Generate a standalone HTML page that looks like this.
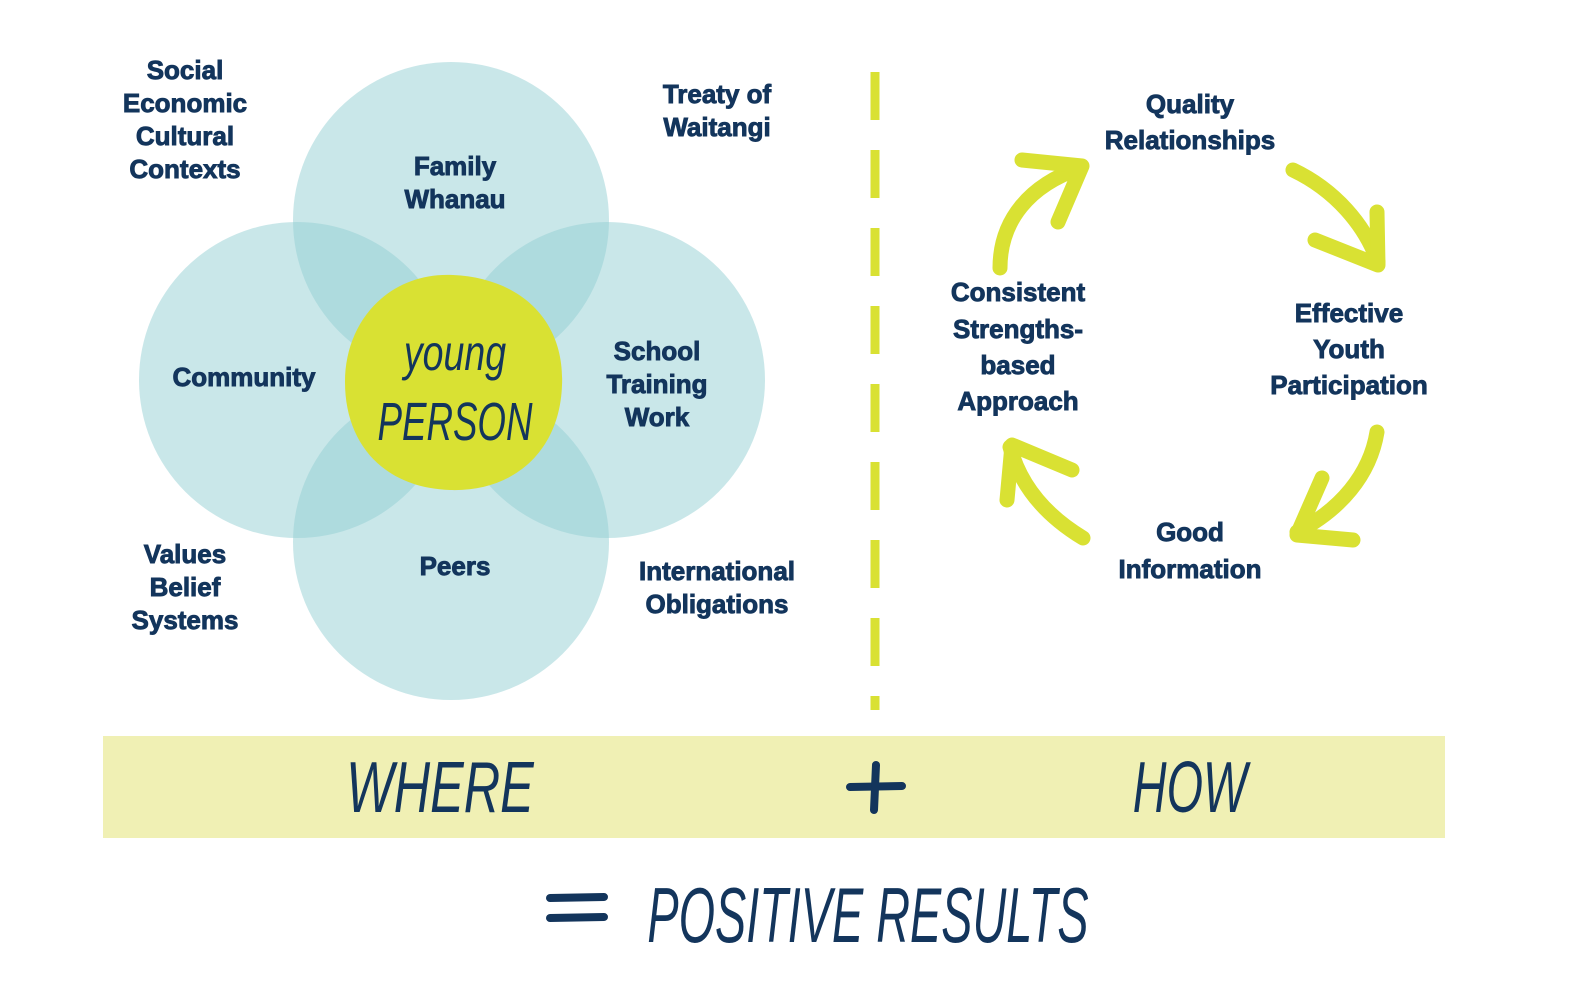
<!DOCTYPE html>
<html><head><meta charset="utf-8"><style>
html,body{margin:0;padding:0;background:#fff;}
svg{display:block}
.l{font-family:"Liberation Sans",sans-serif;font-weight:bold;fill:#13355c;stroke:#13355c;stroke-width:0.9;font-size:26px;text-anchor:middle}
.h{font-family:"Liberation Sans Narrow","Liberation Sans",sans-serif;fill:#13355c;font-style:italic;text-anchor:middle}
</style></head><body>
<svg width="1582" height="993" viewBox="0 0 1582 993" xmlns="http://www.w3.org/2000/svg">
<g fill="#93cfd3" fill-opacity="0.5">
<circle cx="451" cy="220" r="158"/>
<circle cx="297" cy="380" r="158"/>
<circle cx="607" cy="380" r="158"/>
<circle cx="451" cy="542" r="158"/>
</g>
<path d="M453 275 C520 278 565 320 562 385 C560 450 515 492 450 490 C385 488 345 445 345 382 C345 320 390 272 453 275 Z" fill="#d9e133"/>
<text class="h" x="455" y="370" font-size="50" transform="translate(455 370) scale(0.75 1) translate(-455 -370)">young</text>
<text class="h" x="455" y="440" font-size="54" transform="translate(455 440) scale(0.68 1) translate(-455 -440)">PERSON</text>
<g class="l">
<text x="185" y="79">Social</text><text x="185" y="112">Economic</text><text x="185" y="145">Cultural</text><text x="185" y="178">Contexts</text>
<text x="717" y="103">Treaty of</text><text x="717" y="136">Waitangi</text>
<text x="455" y="175">Family</text><text x="455" y="208">Whanau</text>
<text x="244" y="386">Community</text>
<text x="657" y="360">School</text><text x="657" y="393">Training</text><text x="657" y="426">Work</text>
<text x="455" y="575">Peers</text>
<text x="185" y="563">Values</text><text x="185" y="596">Belief</text><text x="185" y="629">Systems</text>
<text x="717" y="580">International</text><text x="717" y="613">Obligations</text>
<text x="1190" y="113">Quality</text><text x="1190" y="149">Relationships</text>
<text x="1018" y="301">Consistent</text><text x="1018" y="338">Strengths-</text><text x="1018" y="374">based</text><text x="1018" y="410">Approach</text>
<text x="1349" y="322">Effective</text><text x="1349" y="358">Youth</text><text x="1349" y="394">Participation</text>
<text x="1190" y="541">Good</text><text x="1190" y="578">Information</text>
</g>
<line x1="875" y1="72" x2="875" y2="710" stroke="#d9e133" stroke-width="9" stroke-dasharray="48 30"/>
<g fill="none" stroke="#d9e133" stroke-width="15" stroke-linecap="round" stroke-linejoin="round">
<path d="M1000 268 C1000 220 1030 185 1080 168"/><path d="M1022 160 L1082 166 L1058 222"/>
<path d="M1293 170 C1335 190 1365 225 1378 262"/><path d="M1377 212 L1378 265 L1315 240"/>
<path d="M1377 432 C1370 475 1340 510 1297 532"/><path d="M1322 478 L1297 535 L1353 540"/>
<path d="M1083 538 C1045 515 1020 485 1010 447"/><path d="M1072 470 L1012 445 L1007 500"/>
</g>
<rect x="103" y="736" width="1342" height="102" fill="#f0f0b4"/>
<text class="h" x="440" y="812" font-size="72" transform="translate(440 812) scale(0.7 1) translate(-440 -812)">WHERE</text>
<text class="h" x="1190" y="812" font-size="72" transform="translate(1190 812) scale(0.65 1) translate(-1190 -812)">HOW</text>
<g stroke="#13355c" stroke-width="8" stroke-linecap="round"><line x1="850" y1="787" x2="902" y2="786"/><line x1="876" y1="765" x2="874" y2="810"/>
<line x1="550" y1="898" x2="604" y2="897"/><line x1="550" y1="918" x2="604" y2="917"/></g>
<text class="h" x="868" y="942" font-size="78" transform="translate(868 942) scale(0.6 1) translate(-868 -942)">POSITIVE RESULTS</text>
</svg>
</body></html>
